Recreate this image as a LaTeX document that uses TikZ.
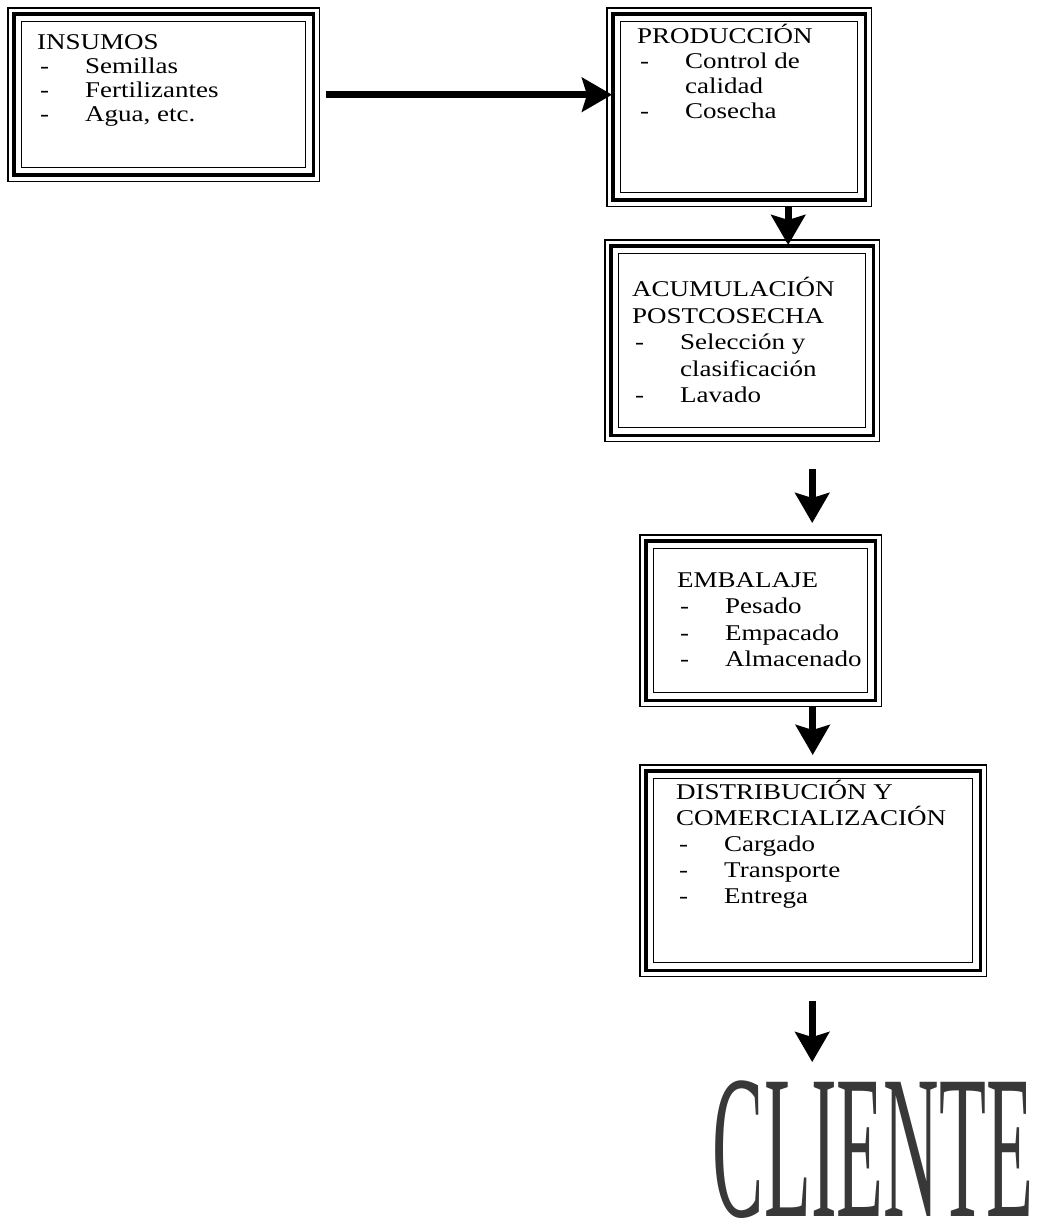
\documentclass[tikz,border=0pt]{standalone}
\usepackage{fontspec}
\setmainfont{Liberation Serif}
\newfontfamily\boxfont{Liberation Serif}[FakeStretch=1.2]
\usetikzlibrary{arrows.meta}
\newcommand\itm[1]{\makebox[48pt][l]{\hspace{3pt}-}#1}
\newcommand\cnt[1]{\hspace*{48pt}#1}
\newcommand\triframe[1]{%
  \draw[line width=3.8pt] ([xshift=-7pt,yshift=7pt]#1.north west) rectangle ([xshift=7pt,yshift=-7pt]#1.south east);
  \draw[line width=1.3pt] ([xshift=-13pt,yshift=13pt]#1.north west) rectangle ([xshift=13pt,yshift=-13pt]#1.south east);}
\begin{document}
\begin{tikzpicture}[x=1pt,y=-1pt,
  inbox/.style={draw, line width=1.4pt, anchor=north west, inner sep=0pt},
  txt/.style={anchor=north west, inner sep=0pt, align=left, font=\boxfont\fontsize{22.5}{26}\selectfont},
  flow/.style={line width=7pt, -{Stealth[length=30pt,width=34pt,inset=5pt]}},
]
\useasboundingbox[fill=white] (0,0) rectangle (1041,1222);

% boxes (inner rectangle is the node)
\node[inbox, minimum width=284pt, minimum height=146pt] (b1) at (21,21) {};
\node[inbox, minimum width=237pt, minimum height=171pt] (b2) at (620,21) {};
\node[inbox, minimum width=247pt, minimum height=174pt] (b3) at (618,253) {};
\node[inbox, minimum width=214pt, minimum height=144pt] (b4) at (653,548) {};
\node[inbox, minimum width=319pt, minimum height=184pt] (b5) at (653,778) {};
\triframe{b1}
\triframe{b2}
\triframe{b3}
\triframe{b4}
\triframe{b5}

% texts
\node[txt, font=\boxfont\fontsize{22.5}{24}\selectfont] (t1) at (37,34) {INSUMOS\\\itm{Semillas}\\\itm{Fertilizantes}\\\itm{Agua, etc.}};
\node[txt, font=\boxfont\fontsize{22.5}{25}\selectfont] (t2) at (637,24) {PRODUCCIÓN\\\itm{Control de}\\\cnt{calidad}\\\itm{Cosecha}};
\node[txt, font=\boxfont\fontsize{22.5}{26.5}\selectfont] (t3) at (632,277) {ACUMULACIÓN\\POSTCOSECHA\\\itm{Selección y}\\\cnt{clasificación}\\\itm{Lavado}};
\node[txt, font=\boxfont\fontsize{22.5}{26.5}\selectfont] (t4) at (677,572) {EMBALAJE\\\itm{Pesado}\\\itm{Empacado}\\\itm{Almacenado}};
\node[txt] (t5) at (676,780) {DISTRIBUCIÓN Y\\COMERCIALIZACIÓN\\\itm{Cargado}\\\itm{Transporte}\\\itm{Entrega}};

\node[inner sep=0pt, anchor=base, text=black!78] (cli) at (873,1216)
  {\scalebox{0.375}[1]{\fontsize{205}{205}\selectfont CLIENTE}};

% connectors
\draw[flow, shorten <=20pt, shorten >=8pt] (b1.east) -- (b1.east -| b2.west);
\draw[flow, shorten <=13pt, shorten >=8pt] ([xshift=49pt]b2.south) -- ([xshift=49pt]b2.south |- b3.north);
\draw[flow, shorten <=41pt, shorten >=25pt] ([xshift=70pt]b3.south) -- ([xshift=70pt]b3.south |- b4.north);
\draw[flow, shorten <=13pt, shorten >=23pt] ([xshift=52pt]b4.south) -- ([xshift=52pt]b4.south |- b5.north);
\draw[flow, shorten <=38pt, shorten >=18pt] ([xshift=-1pt]b5.south) -- ([xshift=-1pt]b5.south |- cli.north);
\end{tikzpicture}
\end{document}
